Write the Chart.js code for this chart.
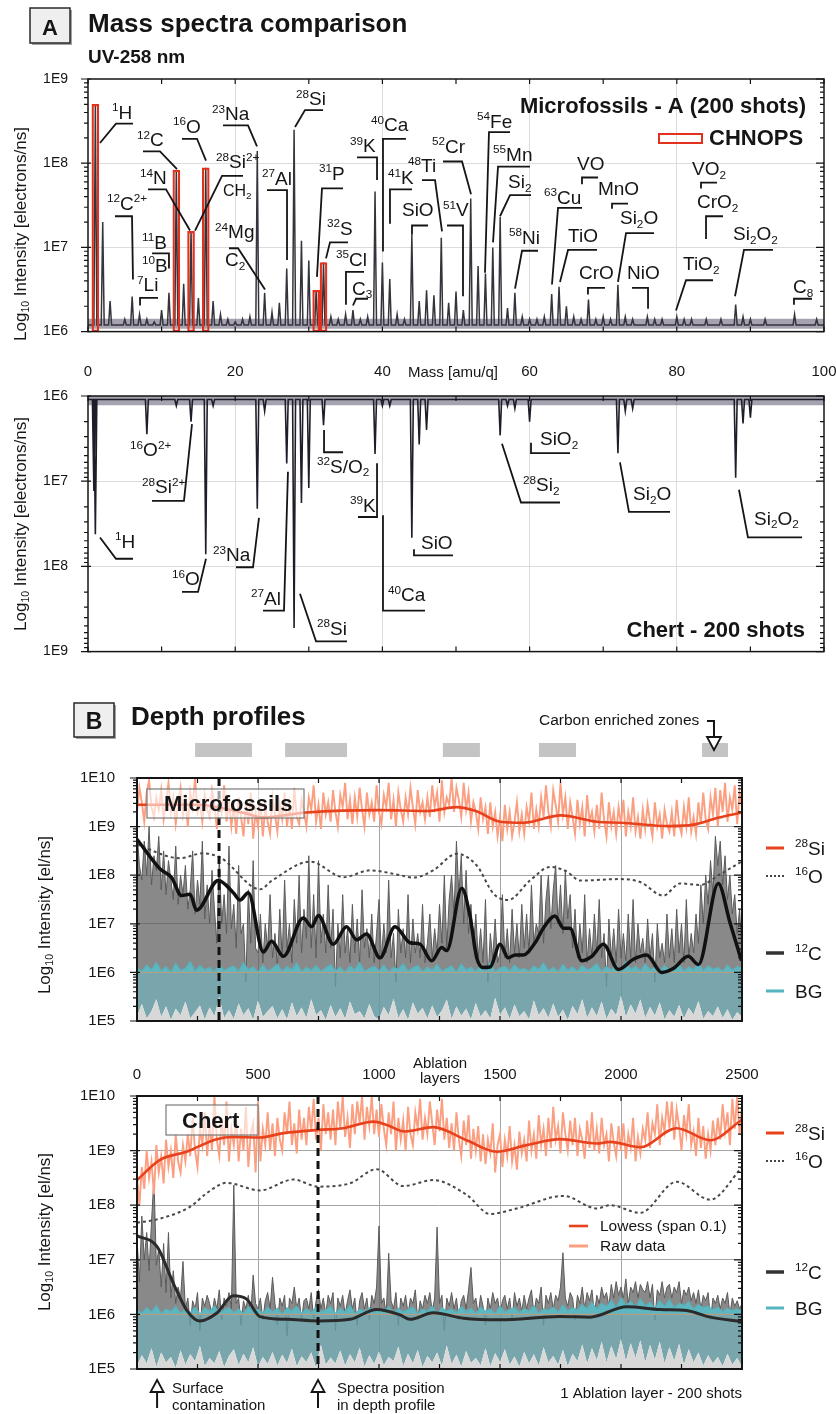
<!DOCTYPE html>
<html>
<head>
<meta charset="utf-8">
<title>Mass spectra and depth profiles</title>
<script src="https://cdn.jsdelivr.net/npm/chart.js@4.4.1/dist/chart.umd.min.js"></script>
<style>
  html, body { margin: 0; padding: 0; background: #fff; }
  #page { position: relative; width: 836px; height: 1414px; overflow: hidden; }
  #page canvas { position: absolute; left: 0; }
</style>
</head>
<body>
<div id="page">
  <canvas id="specTop" width="836" height="360" style="top:0"></canvas>
  <canvas id="specBottom" width="836" height="320" style="top:360px"></canvas>
  <canvas id="depthFossil" width="836" height="372" style="top:680px"></canvas>
  <canvas id="depthChert" width="836" height="362" style="top:1052px"></canvas>
</div>
<script>
const FONT = '"Liberation Sans", Arial, Helvetica, sans-serif';
const INK = '#151515';
const RED = '#e2311d';

// ---------- mass spectra: peak apex per mass (amu/q), intensity in electrons/ns ----------
const fossilMass = [1, 2, 3,
  5, 6, 7, 8, 9, 10, 11, 12, 13, 14,
  15, 16, 17, 18, 19, 20, 21, 22, 23, 24,
  25, 26, 27, 28, 29, 30, 31, 32, 33, 34,
  35, 36, 37, 38, 39, 40, 41, 42, 43, 44,
  45, 46, 47, 48, 49, 50, 51, 52, 53, 54,
  55, 56, 57, 58, 59, 60, 61, 62, 63, 64,
  65, 66, 67, 68, 69, 70, 71, 72, 73, 74,
  76, 77, 78, 80, 81, 82, 84, 86, 88, 89, 90, 92, 96, 99];
const fossilPeak = [5.0e8, 2.0e7, 2.3e6,
  1.4e6, 2.6e6, 1.6e6, 1.4e6, 1.3e6, 1.8e6, 2.9e6, 8.3e7, 3.7e6, 1.55e7,
  2.5e6, 8.8e7, 2.3e6, 1.6e6, 1.4e6, 1.3e6, 1.4e6, 1.5e6, 1.4e8, 2.9e6,
  1.7e6, 2.2e6, 5.6e6, 2.5e8, 1.2e7, 7.0e6, 3.1e6, 6.6e6, 1.5e6, 1.4e6,
  1.6e6, 1.8e6, 1.4e6, 1.5e6, 4.6e7, 6.6e6, 4.2e6, 1.6e6, 1.4e6, 1.4e7,
  2.3e6, 3.1e6, 2.7e6, 1.3e7, 2.2e6, 3.0e6, 1.8e6, 3.8e7, 6.0e6, 4.9e6,
  1.0e7, 2.3e7, 1.9e6, 2.9e6, 1.5e6, 1.4e6, 1.4e6, 1.5e6, 2.8e6, 3.4e6,
  2.0e6, 1.5e6, 1.4e6, 2.4e6, 1.4e6, 1.5e6, 1.4e6, 3.6e6, 1.5e6, 1.4e6,
  1.5e6, 1.4e6, 1.4e6, 1.5e6, 1.4e6, 1.4e6, 1.4e6, 1.4e6, 2.1e6, 1.5e6, 1.4e6, 1.4e6, 1.6e6, 1.4e6];
const chertMass = [0.8, 1, 8, 12, 14, 16, 17, 23, 24, 27,
  28, 29, 30, 32, 39, 40, 41, 44, 45, 46,
  56, 57, 58, 60, 72, 73, 74, 88, 89, 90];
const chertPeak = [1.3e7, 4.2e7, 2.8e6, 1.3e6, 2.0e6, 7.2e7, 1.3e6, 2.1e7, 1.5e6, 6.2e6,
  5.3e8, 1.8e7, 1.2e7, 2.2e6, 4.8e6, 1.3e6, 1.3e6, 4.6e7, 3.7e6, 2.5e6,
  2.9e6, 1.3e6, 1.4e6, 2.0e6, 4.7e6, 1.5e6, 1.4e6, 9.1e6, 2.1e6, 1.8e6];
const chnopsMass = [1, 12, 14, 16, 31, 32];
const fossilBase = 1.2e6, fossilNoise = [1.08e6, 1.42e6];
const chertBase = 1.1e6, chertNoise = [1.0e6, 1.28e6];

// ---------- depth profiles, log10(el/ns) ----------
// 28Si and 12C raw: one value every 10 ablation layers; BG envelope: every 20 layers
const rawLayers = Array.from({length: 251}, (_, i) => i * 10);
const bgLayers = Array.from({length: 126}, (_, i) => i * 20);

const fossilSiRawLog = [
  9.3, 9.8, 9.5, 9.1, 9.7, 9.95, 9.4, 9.2, 9.6, 9.35,
  9.75, 9.15, 9.5, 9.9, 9.3, 9.6, 9.05, 9.45, 9.8, 9.25,
  9.55, 9.0, 9.7, 9.4, 10.0, 9.3, 9.5, 9.1, 9.65, 9.35,
  9.2, 9.75, 9.45, 8.95, 9.6, 9.3, 9.85, 9.1, 9.5, 9.0,
  9.45, 8.85, 9.6, 9.2, 8.8, 9.5, 9.05, 9.7, 8.75, 9.3,
  9.0, 9.55, 8.8, 9.4, 9.1, 8.85, 9.6, 9.25, 8.9, 9.45,
  9.15, 9.7, 9.0, 9.45, 8.95, 9.8, 9.2, 9.05, 9.55, 9.3,
  9.0, 9.6, 9.35, 9.85, 9.1, 9.45, 8.95, 9.7, 9.25, 9.5,
  9.1, 9.75, 9.3, 9.0, 9.65, 9.4, 9.9, 9.15, 9.55, 9.05,
  9.6, 9.2, 9.8, 9.35, 9.0, 9.7, 9.25, 9.5, 9.1, 9.85,
  9.3, 9.05, 9.65, 9.4, 9.9, 9.15, 9.55, 9.0, 9.7, 9.35,
  9.1, 9.6, 9.25, 9.8, 9.4, 9.05, 9.75, 9.3, 9.5, 9.15,
  9.6, 9.2, 9.85, 9.4, 9.7, 9.1, 9.95, 9.3, 9.6, 9.45,
  10.0, 9.3, 9.8, 9.55, 9.2, 9.9, 9.35, 9.7, 9.1, 9.5,
  9.3, 8.95, 9.6, 9.15, 9.4, 8.85, 9.5, 9.0, 9.3, 8.8,
  9.2, 8.7, 9.45, 8.95, 9.3, 8.8, 9.1, 9.5, 8.9, 9.25,
  8.85, 9.4, 9.1, 9.7, 8.95, 9.35, 9.0, 9.6, 9.2, 9.85,
  9.3, 9.0, 9.75, 9.45, 9.1, 9.9, 9.25, 9.6, 8.95, 9.5,
  9.2, 8.85, 9.55, 9.05, 9.4, 8.8, 9.65, 9.1, 9.3, 8.9,
  9.45, 8.95, 9.7, 9.15, 8.8, 9.5, 9.0, 9.3, 8.85, 9.4,
  9.05, 9.55, 8.8, 9.3, 9.0, 9.6, 8.9, 9.2, 8.75, 9.35,
  8.95, 9.45, 9.1, 8.8, 9.5, 9.0, 9.25, 8.75, 9.35, 9.05,
  8.9, 9.3, 8.8, 9.55, 9.05, 8.85, 9.4, 9.0, 9.6, 8.9,
  9.2, 8.85, 9.5, 9.05, 9.7, 9.15, 8.95, 9.6, 9.25, 9.8,
  9.0, 9.75, 9.3, 9.9, 9.1, 9.6, 9.35, 9.85, 9.05, 9.7,
  9.4];
const fossilCRawLog = [
  8.9, 8.2, 7.9, 8.7, 8.0, 9.0, 7.8, 8.4, 8.1, 8.8,
  7.7, 8.5, 7.6, 8.3, 7.9, 7.5, 8.6, 7.4, 8.0, 7.6,
  8.2, 7.3, 7.7, 8.5, 7.2, 7.9, 7.4, 8.7, 7.1, 7.8,
  7.0, 8.1, 7.3, 6.6, 8.4, 7.0, 7.6, 6.8, 8.6, 6.9,
  7.4, 6.5, 8.2, 6.8, 7.0, 5.8, 7.7, 6.6, 8.3, 6.5,
  6.4, 7.2, 6.2, 7.0, 6.5, 7.6, 6.3, 6.8, 6.1, 7.3,
  6.3, 7.9, 6.5, 7.0, 6.2, 7.5, 6.6, 8.0, 6.4, 7.3,
  6.7, 8.4, 6.5, 7.6, 6.3, 8.3, 6.6, 7.2, 6.4, 7.8,
  6.5, 7.3, 5.7, 7.0, 6.3, 7.6, 6.4, 6.9, 6.2, 7.4,
  6.4, 7.1, 6.2, 7.7, 6.5, 6.9, 6.3, 7.2, 6.2, 6.8,
  7.5, 6.3, 7.0, 6.4, 7.9, 6.3, 6.8, 5.8, 7.3, 6.4,
  6.9, 6.3, 7.6, 6.2, 7.1, 6.4, 6.8, 6.3, 7.4, 6.2,
  6.6, 7.2, 6.3, 6.9, 6.4, 7.4, 6.6, 8.0, 6.5, 7.5,
  8.0, 7.2, 8.7, 7.6, 8.4, 7.0, 8.1, 6.8, 7.4, 6.5,
  7.2, 6.3, 6.9, 6.2, 7.5, 5.8, 6.8, 6.3, 7.1, 6.2,
  6.4, 7.6, 6.3, 6.9, 6.2, 7.3, 6.4, 7.0, 6.3, 7.4,
  6.5, 7.2, 6.4, 7.8, 6.6, 7.0, 6.8, 8.0, 6.6, 7.5,
  8.0, 6.9, 7.7, 8.2, 7.0, 7.8, 6.8, 8.1, 7.1, 7.6,
  6.5, 7.3, 6.3, 7.0, 6.4, 7.6, 6.2, 6.9, 6.3, 7.2,
  6.4, 7.5, 6.3, 6.8, 5.7, 7.1, 6.3, 6.9, 6.2, 7.3,
  6.3, 6.8, 6.2, 7.2, 6.3, 7.5, 6.2, 7.0, 6.4, 6.7,
  6.2, 7.1, 6.3, 6.8, 5.8, 7.0, 6.3, 6.6, 6.2, 7.2,
  6.3, 6.9, 6.2, 7.3, 6.4, 7.0, 6.2, 7.5, 6.3, 6.8,
  6.4, 7.2, 6.6, 7.8, 7.0, 8.0, 7.4, 8.3, 7.6, 8.8,
  8.2, 8.7, 7.8, 8.4, 7.5, 8.0, 7.2, 7.6, 6.8, 7.3,
  6.4];
const fossilBgHighLog = [
  6.10, 6.02, 6.15, 6.05, 6.20, 6.03, 6.12, 6.00, 6.18, 6.04,
  6.08, 6.22, 6.02, 6.14, 6.05, 6.10, 6.01, 6.16, 6.04, 6.09,
  6.13, 6.02, 6.20, 6.05, 6.11, 6.00, 6.15, 6.03, 6.08, 6.17,
  6.02, 6.12, 6.05, 6.19, 6.01, 6.10, 6.04, 6.14, 6.02, 6.09,
  6.16, 6.03, 6.11, 6.00, 6.13, 6.05, 6.20, 6.02, 6.08, 6.12,
  6.03, 6.15, 6.01, 6.10, 6.06, 6.18, 6.02, 6.09, 6.14, 6.01,
  6.11, 6.04, 6.16, 6.02, 6.08, 6.13, 6.00, 6.17, 6.05, 6.10,
  6.02, 6.14, 6.04, 6.21, 6.01, 6.09, 6.12, 6.03, 6.15, 6.05,
  6.08, 6.02, 6.13, 6.06, 6.19, 6.03, 6.10, 6.01, 6.16, 6.04,
  6.11, 6.02, 6.14, 6.05, 6.09, 6.18, 6.02, 6.12, 6.04, 6.15,
  6.01, 6.22, 6.06, 6.12, 6.03, 6.17, 6.05, 6.10, 6.02, 6.14,
  6.04, 6.09, 6.16, 6.02, 6.11, 6.05, 6.20, 6.03, 6.13, 6.06,
  6.10, 6.02, 6.15, 6.04, 6.12, 6.08];
const fossilBgLowLog = [
  5.10, 5.35, 5.05, 5.20, 5.45, 5.08, 5.30, 5.02, 5.25, 5.12,
  5.40, 5.05, 5.18, 5.32, 5.03, 5.28, 5.10, 5.50, 5.06, 5.22,
  5.04, 5.36, 5.12, 5.26, 5.02, 5.42, 5.08, 5.20, 5.31, 5.05,
  5.24, 5.03, 5.38, 5.10, 5.28, 5.06, 5.45, 5.12, 5.22, 5.02,
  5.33, 5.08, 5.26, 5.04, 5.40, 5.14, 5.20, 5.05, 5.35, 5.10,
  5.03, 5.29, 5.12, 5.46, 5.06, 5.24, 5.02, 5.38, 5.15, 5.27,
  5.05, 5.32, 5.08, 5.21, 5.44, 5.04, 5.30, 5.11, 5.25, 5.03,
  5.37, 5.09, 5.22, 5.05, 5.48, 5.13, 5.28, 5.04, 5.34, 5.10,
  5.20, 5.03, 5.42, 5.12, 5.26, 5.06, 5.36, 5.08, 5.23, 5.02,
  5.31, 5.14, 5.45, 5.06, 5.28, 5.10, 5.40, 5.04, 5.25, 5.12,
  5.52, 5.08, 5.34, 5.15, 5.44, 5.06, 5.29, 5.11, 5.38, 5.03,
  5.22, 5.09, 5.33, 5.05, 5.27, 5.13, 5.41, 5.04, 5.20, 5.10,
  5.30, 5.06, 5.24, 5.02, 5.18, 5.08];

const chertSiRawLog = [
  8.5, 8.0, 8.7, 8.3, 9.0, 8.5, 8.8, 8.2, 9.1, 8.6,
  8.9, 8.4, 9.2, 8.7, 9.0, 8.5, 9.3, 8.8, 8.6, 9.1,
  8.8, 9.3, 8.9, 9.6, 9.0, 8.7, 9.4, 9.1, 9.7, 8.9,
  9.5, 9.0, 10.0, 9.2, 8.9, 9.6, 9.1, 9.9, 8.8, 9.4,
  9.1, 9.6, 8.8, 9.4, 9.0, 9.8, 8.7, 9.3, 9.5, 8.6,
  9.9, 8.8, 9.4, 9.1, 9.7, 9.0, 9.5, 8.9, 9.6, 9.2,
  9.0, 9.7, 9.3, 9.9, 9.1, 9.5, 8.95, 9.75, 9.2, 9.6,
  9.1, 9.8, 9.35, 9.95, 9.2, 9.6, 9.0, 9.85, 9.3, 9.7,
  9.2, 9.75, 9.1, 9.9, 9.4, 10.0, 9.25, 9.6, 9.05, 9.85,
  9.3, 9.9, 9.5, 10.0, 9.2, 9.8, 9.45, 10.0, 9.3, 9.75,
  9.25, 9.85, 9.4, 9.1, 9.7, 9.3, 9.9, 9.0, 9.6, 9.2,
  9.55, 9.0, 9.8, 9.3, 9.1, 9.7, 9.4, 9.95, 9.2, 9.6,
  9.3, 9.9, 9.5, 9.1, 9.75, 9.35, 9.95, 9.2, 9.6, 9.05,
  9.5, 9.0, 9.7, 9.2, 8.9, 9.55, 9.1, 9.65, 8.85, 9.4,
  9.0, 9.45, 8.8, 9.3, 8.75, 9.2, 8.95, 9.5, 8.6, 9.1,
  9.3, 8.7, 9.2, 8.9, 9.45, 8.8, 9.1, 8.65, 9.35, 8.95,
  9.2, 8.8, 9.55, 9.0, 9.3, 8.85, 9.65, 9.1, 9.4, 8.9,
  9.6, 9.05, 9.8, 9.2, 9.45, 8.95, 9.7, 9.3, 9.0, 9.55,
  9.1, 9.6, 8.9, 9.4, 9.2, 8.85, 9.55, 9.05, 9.7, 9.0,
  9.4, 8.95, 9.6, 9.1, 9.3, 8.8, 9.5, 9.15, 8.9, 9.45,
  9.0, 9.5, 8.85, 9.3, 9.05, 9.6, 8.8, 9.25, 8.95, 9.4,
  9.2, 9.7, 9.05, 9.5, 9.3, 9.85, 9.1, 9.6, 9.35, 9.9,
  9.4, 9.9, 9.2, 9.75, 9.45, 9.0, 9.65, 9.3, 9.85, 9.1,
  9.35, 8.9, 9.6, 9.05, 9.45, 8.85, 9.3, 9.0, 9.55, 9.1,
  9.6, 9.2, 9.85, 9.35, 9.7, 9.1, 9.95, 9.4, 10.0, 9.3,
  9.8];
const chertCRawLog = [
  7.4, 6.6, 7.8, 7.0, 7.5, 6.8, 7.7, 8.5, 6.9, 7.2,
  6.5, 7.3, 6.4, 7.5, 6.3, 6.8, 6.2, 6.5, 6.3, 6.97,
  6.1, 6.3, 5.8, 6.25, 6.1, 6.4, 5.7, 6.3, 6.15, 6.35,
  6.2, 6.0, 6.3, 6.1, 6.45, 5.9, 6.3, 6.15, 6.4, 6.1,
  8.37, 6.2, 6.3, 5.8, 6.25, 6.1, 6.35, 6.0, 6.72, 6.2,
  6.1, 6.3, 5.9, 6.25, 6.4, 6.1, 6.68, 6.2, 5.8, 6.3,
  6.15, 6.35, 5.6, 6.3, 6.2, 6.5, 6.1, 6.3, 5.9, 6.25,
  6.3, 6.1, 6.4, 5.9, 6.25, 6.45, 6.1, 6.3, 6.0, 6.35,
  6.2, 6.4, 5.7, 6.3, 6.15, 6.35, 6.0, 6.25, 6.45, 6.1,
  6.3, 5.8, 6.25, 6.4, 6.1, 6.3, 5.9, 6.35, 6.2, 6.5,
  7.62, 6.2, 6.3, 6.0, 7.12, 6.25, 6.1, 6.4, 5.8, 6.3,
  6.15, 6.35, 6.0, 6.3, 6.2, 6.45, 5.9, 6.25, 6.1, 6.35,
  6.2, 6.4, 6.05, 6.3, 7.60, 6.2, 6.35, 5.7, 6.3, 6.15,
  6.4, 6.1, 6.3, 5.9, 6.25, 6.35, 6.1, 6.45, 6.86, 6.2,
  6.3, 6.0, 6.35, 6.15, 5.8, 6.3, 6.1, 6.4, 6.2, 6.3,
  6.0, 6.25, 6.35, 6.1, 6.3, 5.9, 6.4, 6.15, 6.3, 6.05,
  6.35, 6.1, 6.3, 6.45, 6.0, 6.3, 6.2, 6.5, 5.8, 6.35,
  6.2, 6.4, 6.1, 6.35, 6.25, 6.5, 7.13, 6.3, 6.15, 6.4,
  6.3, 5.9, 6.35, 6.2, 6.5, 6.1, 6.4, 6.25, 6.45, 6.0,
  6.35, 6.2, 6.5, 6.3, 6.4, 6.15, 6.55, 6.3, 6.6, 6.35,
  6.5, 6.3, 6.65, 6.2, 6.5, 6.4, 6.6, 6.3, 6.55, 6.45,
  6.4, 6.6, 6.3, 6.55, 5.9, 6.45, 6.35, 6.6, 6.3, 6.5,
  6.55, 6.3, 6.5, 6.4, 6.6, 6.2, 6.45, 6.35, 6.5, 6.25,
  6.4, 6.2, 6.45, 6.1, 6.35, 6.25, 6.4, 5.9, 6.3, 6.2,
  6.35, 6.1, 6.3, 6.2, 6.4, 6.0, 6.3, 6.15, 6.25, 6.1,
  6.2];
const chertBgHighLog = [
  6.08, 6.02, 6.12, 6.04, 6.16, 6.01, 6.10, 6.05, 6.14, 6.02,
  6.09, 6.03, 6.13, 6.00, 6.11, 6.06, 6.15, 6.02, 6.08, 6.12,
  6.03, 6.10, 6.01, 6.14, 6.05, 6.09, 6.02, 6.13, 6.04, 6.11,
  6.00, 6.12, 6.06, 6.15, 6.02, 6.10, 6.03, 6.13, 6.05, 6.08,
  6.14, 6.02, 6.11, 6.04, 6.16, 6.01, 6.09, 6.05, 6.12, 6.03,
  6.10, 6.06, 6.14, 6.02, 6.11, 6.04, 6.09, 6.13, 6.01, 6.10,
  6.05, 6.15, 6.02, 6.12, 6.06, 6.09, 6.03, 6.14, 6.05, 6.11,
  6.02, 6.13, 6.06, 6.10, 6.01, 6.15, 6.04, 6.09, 6.12, 6.03,
  6.11, 6.05, 6.16, 6.02, 6.10, 6.07, 6.13, 6.04, 6.17, 6.06,
  6.12, 6.08, 6.18, 6.10, 6.22, 6.09, 6.20, 6.14, 6.26, 6.12,
  6.30, 6.16, 6.24, 6.13, 6.28, 6.15, 6.22, 6.11, 6.25, 6.14,
  6.27, 6.12, 6.20, 6.16, 6.23, 6.09, 6.18, 6.12, 6.15, 6.08,
  6.13, 6.05, 6.11, 6.07, 6.10, 6.06];
const chertBgLowLog = [
  5.06, 5.25, 5.10, 5.38, 5.04, 5.30, 5.12, 5.22, 5.02, 5.34,
  5.08, 5.27, 5.14, 5.42, 5.05, 5.20, 5.10, 5.33, 5.03, 5.24,
  5.36, 5.07, 5.28, 5.12, 5.40, 5.04, 5.22, 5.09, 5.31, 5.06,
  5.26, 5.11, 5.37, 5.05, 5.23, 5.13, 5.30, 5.02, 5.44, 5.08,
  5.21, 5.10, 5.34, 5.06, 5.27, 5.12, 5.39, 5.04, 5.25, 5.09,
  5.32, 5.07, 5.22, 5.14, 5.41, 5.05, 5.28, 5.10, 5.35, 5.03,
  5.24, 5.12, 5.30, 5.06, 5.43, 5.09, 5.26, 5.04, 5.33, 5.11,
  5.20, 5.07, 5.38, 5.05, 5.29, 5.13, 5.36, 5.08, 5.23, 5.04,
  5.31, 5.10, 5.27, 5.06, 5.40, 5.12, 5.24, 5.08, 5.35, 5.05,
  5.28, 5.14, 5.45, 5.10, 5.38, 5.16, 5.50, 5.12, 5.42, 5.18,
  5.55, 5.14, 5.47, 5.20, 5.52, 5.12, 5.44, 5.17, 5.50, 5.10,
  5.40, 5.15, 5.46, 5.08, 5.36, 5.12, 5.30, 5.06, 5.25, 5.10,
  5.22, 5.05, 5.28, 5.08, 5.20, 5.04];

// lowess (span 0.1) curves: ablation layer / log10(el/ns)
const fossilSiFitAt = [0, 250, 450, 520, 700, 1000, 1200, 1320, 1400, 1500, 1600, 1750, 1900, 2000, 2200, 2300, 2400, 2500];
const fossilSiFitLog = [9.45, 9.45, 9.27, 9.19, 9.29, 9.34, 9.32, 9.40, 9.32, 9.10, 9.08, 9.23, 9.10, 9.08, 9.01, 9.04, 9.18, 9.29];
const fossilOFitAt = [0, 176, 274, 348, 509, 558, 716, 853, 963, 1087, 1142, 1224, 1321, 1404, 1473, 1534, 1624, 1707, 1775, 1831, 1997, 2079, 2175, 2244, 2327, 2410, 2498];
const fossilOFitLog = [8.63, 8.35, 8.45, 8.35, 7.71, 7.89, 8.28, 7.96, 8.10, 8.00, 7.95, 8.10, 8.44, 8.20, 7.62, 7.49, 7.89, 8.17, 8.08, 7.89, 7.92, 7.86, 7.58, 7.83, 7.80, 8.02, 8.28];
const fossilCFitAt = [0, 95, 143, 184, 219, 246, 336, 398, 426, 460, 522, 556, 605, 687, 722, 749, 811, 866, 908, 949, 1004, 1066, 1128, 1169, 1218, 1259, 1280, 1342, 1376, 1404, 1431, 1459, 1500, 1534, 1562, 1597, 1645, 1679, 1727, 1762, 1789, 1838, 1879, 1927, 1989, 2051, 2106, 2168, 2216, 2278, 2320, 2402, 2450, 2498];
const fossilCFitLog = [8.74, 8.13, 7.95, 7.58, 7.61, 7.28, 7.89, 7.64, 7.49, 7.64, 6.42, 6.64, 6.33, 7.12, 6.94, 7.17, 6.58, 6.94, 6.67, 6.79, 6.30, 6.94, 6.61, 6.58, 6.24, 6.51, 6.45, 7.73, 7.16, 6.30, 6.10, 6.11, 6.58, 6.30, 6.36, 6.36, 6.61, 6.91, 7.16, 6.91, 6.91, 6.24, 6.33, 6.58, 6.06, 6.27, 6.36, 6.00, 6.08, 6.33, 6.16, 7.83, 7.03, 6.24];

const chertSiFitAt = [0, 95, 205, 329, 398, 508, 605, 749, 853, 977, 1032, 1107, 1224, 1362, 1486, 1610, 1748, 1900, 1955, 2079, 2230, 2368, 2498];
const chertSiFitLog = [8.46, 8.83, 8.98, 9.21, 9.25, 9.24, 9.32, 9.38, 9.41, 9.53, 9.47, 9.35, 9.43, 9.19, 8.98, 9.10, 9.21, 9.13, 9.16, 9.06, 9.41, 9.19, 9.56];
const chertOFitAt = [0, 83, 219, 288, 370, 508, 646, 749, 880, 990, 1100, 1224, 1362, 1459, 1569, 1762, 1900, 1955, 2079, 2230, 2368, 2498];
const chertOFitLog = [7.68, 7.74, 7.97, 8.22, 8.41, 8.27, 8.47, 8.34, 8.40, 8.66, 8.35, 8.46, 8.19, 7.84, 7.94, 8.17, 7.94, 8.00, 7.86, 8.43, 8.10, 8.68];
const chertCFitAt = [0, 83, 150, 205, 260, 329, 398, 453, 508, 619, 749, 880, 990, 1087, 1128, 1224, 1349, 1500, 1748, 1872, 2024, 2162, 2271, 2368, 2498];
const chertCFitLog = [7.44, 7.24, 6.57, 6.08, 5.88, 6.02, 6.34, 6.28, 5.96, 5.91, 5.88, 5.91, 6.09, 5.99, 5.91, 6.03, 5.93, 5.90, 5.96, 5.95, 6.14, 6.09, 6.07, 5.95, 5.87];

const bgLimit = 1e6;
const carbonZones = [[240, 475], [612, 868], [1264, 1417], [1661, 1814], [2335, 2442]];
const fossilSpectrumLayer = 339;
const chertSpectrumLayer = 748;
const surfaceLayer = 83;

// peak labels: text anchor and leader polyline as [mass, log10 intensity]
const topLabels = [
  {t: '^1H', at: [3.26, 8.53], path: [[6.11, 8.47], [3.80, 8.47], [1.63, 8.24]]},
  {t: '^12C', at: [6.66, 8.20], path: [[7.47, 8.14], [9.78, 8.14], [12.09, 7.93]]},
  {t: '^16O', at: [11.55, 8.36], path: [[12.77, 8.29], [14.81, 8.29], [16.03, 8.03]]},
  {t: '^14N', at: [7.07, 7.75], path: [[8.15, 7.69], [10.6, 7.69], [13.86, 7.20]]},
  {t: '^28Si^2+', at: [17.39, 7.94], path: [[21.06, 7.85], [18.21, 7.85], [14.54, 7.20]]},
  {t: 'CH_2', at: [18.34, 7.61], size: 16},
  {t: '^12C^2+', at: [2.58, 7.45], path: [[3.67, 7.37], [5.98, 7.37], [6.11, 6.62]]},
  {t: '^11B', at: [7.34, 6.98], path: [[8.70, 6.93], [11.0, 6.93], [11.0, 6.75]]},
  {t: '^10B', at: [7.34, 6.71]},
  {t: '^7Li', at: [6.66, 6.48], path: [[7.07, 6.31], [7.07, 6.40], [9.51, 6.40]]},
  {t: '^23Na', at: [16.85, 8.51], path: [[18.34, 8.45], [21.74, 8.45], [22.96, 8.20]]},
  {t: '^24Mg', at: [17.26, 7.11]},
  {t: 'C_2', at: [18.61, 6.78], path: [[19.16, 6.99], [20.38, 6.99], [24.05, 6.50]]},
  {t: '^27Al', at: [23.64, 7.74], path: [[24.32, 7.68], [27.04, 7.68], [27.04, 6.85]]},
  {t: '^28Si', at: [28.26, 8.69], path: [[31.93, 8.63], [29.48, 8.63], [28.13, 8.43]]},
  {t: '^31P', at: [31.39, 7.80], path: [[34.65, 7.70], [31.79, 7.70], [31.11, 6.65]]},
  {t: '^32S', at: [32.47, 7.15], path: [[35.33, 7.06], [32.88, 7.06], [32.34, 6.87]]},
  {t: '^35Cl', at: [33.70, 6.78], path: [[37.5, 6.71], [35.05, 6.71], [35.05, 6.32]]},
  {t: 'C_3', at: [35.87, 6.44], path: [[38.04, 6.39], [36.41, 6.39], [36.0, 6.31]]},
  {t: '^39K', at: [35.6, 8.13], path: [[36.55, 8.07], [39.27, 8.07], [39.27, 7.80]]},
  {t: '^40Ca', at: [38.45, 8.38], path: [[43.2, 8.29], [40.08, 8.29], [40.08, 6.95]]},
  {t: '^41K', at: [40.76, 7.75], path: [[44.02, 7.69], [41.03, 7.69], [41.03, 7.28]]},
  {t: 'SiO', at: [42.66, 7.37], path: [[44.02, 7.15], [44.02, 7.26], [46.2, 7.26]]},
  {t: '^48Ti', at: [43.48, 7.89], path: [[45.38, 7.80], [47.15, 7.80], [48.1, 7.19]]},
  {t: '^51V', at: [48.23, 7.37], path: [[48.78, 7.26], [50.95, 7.26], [50.95, 6.42]]},
  {t: '^52Cr', at: [46.74, 8.12], path: [[48.23, 8.02], [50.82, 8.02], [52.04, 7.63]]},
  {t: '^54Fe', at: [52.85, 8.42], path: [[57.34, 8.37], [54.48, 8.37], [53.94, 6.70]]},
  {t: '^55Mn', at: [55.03, 8.03], path: [[60.05, 7.96], [55.71, 7.96], [55.03, 7.06]]},
  {t: 'Si_2', at: [57.07, 7.70], path: [[60.19, 7.62], [57.34, 7.62], [55.98, 7.37]]},
  {t: '^58Ni', at: [57.2, 7.04], path: [[61.14, 6.96], [58.97, 6.96], [58.02, 6.51]]},
  {t: '^63Cu', at: [61.96, 7.52], path: [[67.12, 7.47], [63.86, 7.47], [63.04, 6.56]]},
  {t: 'TiO', at: [65.22, 7.06], path: [[69.16, 6.97], [65.22, 6.97], [64.13, 6.59]]},
  {t: 'VO', at: [66.44, 7.92], path: [[67.12, 7.75], [67.12, 7.83], [69.29, 7.83]]},
  {t: 'MnO', at: [69.29, 7.62], path: [[71.2, 7.46], [71.2, 7.52], [73.37, 7.52]]},
  {t: 'Si_2O', at: [72.28, 7.28], path: [[76.9, 7.17], [73.1, 7.17], [72.01, 6.59]]},
  {t: 'CrO', at: [66.71, 6.62], path: [[67.93, 6.44], [67.93, 6.52], [70.24, 6.52]]},
  {t: 'NiO', at: [73.23, 6.62], path: [[73.91, 6.52], [76.09, 6.52], [76.09, 6.27]]},
  {t: 'VO_2', at: [82.07, 7.86], path: [[83.29, 7.70], [83.29, 7.77], [85.46, 7.77]]},
  {t: 'CrO_2', at: [82.74, 7.47], path: [[83.97, 7.10], [83.97, 7.37], [86.28, 7.37]]},
  {t: 'TiO_2', at: [80.84, 6.73], path: [[84.92, 6.61], [81.25, 6.61], [79.89, 6.25]]},
  {t: 'Si_2O_2', at: [87.64, 7.09], path: [[93.07, 6.97], [89.13, 6.97], [87.91, 6.42]]},
  {t: 'C_8', at: [95.79, 6.46], path: [[95.92, 6.32], [95.92, 6.39], [98.37, 6.39]]}
];
const bottomLabels = [
  {t: '^1H', at: [3.67, 7.78], path: [[1.63, 7.66], [3.80, 7.91], [6.11, 7.91]]},
  {t: '^16O^2+', at: [5.71, 6.71]},
  {t: '^28Si^2+', at: [7.34, 7.14], path: [[8.70, 7.23], [13.04, 7.23], [14.13, 6.33]]},
  {t: '^16O', at: [11.41, 8.22], path: [[12.77, 8.30], [14.95, 8.30], [16.03, 7.91]]},
  {t: '^23Na', at: [16.98, 7.94], path: [[20.11, 8.01], [22.42, 8.01], [23.23, 7.43]]},
  {t: '^27Al', at: [22.15, 8.45], path: [[23.78, 8.52], [26.63, 8.52], [27.17, 6.89]]},
  {t: '^28Si', at: [31.11, 8.80], path: [[28.8, 8.32], [30.98, 8.88], [35.19, 8.88]]},
  {t: '^32S/O_2', at: [31.11, 6.90], path: [[32.07, 6.40], [32.07, 6.66], [34.65, 6.66]]},
  {t: '^39K', at: [35.6, 7.36], path: [[36.68, 7.42], [39.27, 7.42], [39.27, 6.79]]},
  {t: '^40Ca', at: [40.76, 8.41], path: [[40.08, 7.40], [40.08, 8.52], [45.79, 8.52]]},
  {t: 'SiO', at: [45.24, 7.79], path: [[44.29, 7.80], [44.29, 7.87], [49.59, 7.87]]},
  {t: '^28Si_2', at: [59.1, 7.12], path: [[56.25, 6.56], [58.83, 7.25], [64.13, 7.25]]},
  {t: 'SiO_2', at: [61.41, 6.58], path: [[60.19, 6.55], [60.19, 6.67], [65.49, 6.67]]},
  {t: 'Si_2O', at: [74.05, 7.22], path: [[72.28, 6.78], [73.5, 7.36], [79.08, 7.36]]},
  {t: 'Si_2O_2', at: [90.49, 7.51], path: [[88.45, 7.10], [89.67, 7.66], [97.01, 7.66]]}
];

// ---------- helpers ----------
Chart.defaults.font.family = FONT;
Chart.defaults.color = INK;

const toPts = (xs, logs) => logs.map((v, i) => ({x: xs[i], y: Math.pow(10, v)}));
const flat = (x0, x1, v) => [{x: x0, y: v}, {x: x1, y: v}];

function stickLine(mass, peak, base) {
  const pts = [{x: 0, y: base}];
  mass.forEach((m, i) => {
    pts.push({x: m - 0.2, y: base}, {x: m, y: peak[i]}, {x: m + 0.2, y: base});
  });
  pts.push({x: 100, y: base});
  return pts;
}

function isDecade(v) {
  const l = Math.log10(v);
  return Math.abs(l - Math.round(l)) < 1e-6;
}

function decadeTicks(min, max) {
  const out = [];
  for (let e = Math.round(Math.log10(min)); e < Math.round(Math.log10(max)); e++) {
    for (let k = 1; k < 10; k++) out.push({value: k * Math.pow(10, e)});
  }
  out.push({value: max});
  return out;
}

function logAxis(min, max, opts) {
  return {
    type: 'logarithmic', min, max, reverse: !!opts.reverse,
    afterBuildTicks: s => { s.ticks = decadeTicks(min, max); },
    afterFit: s => { s.width = opts.width; },
    ticks: {
      autoSkip: false, padding: opts.pad, font: {size: opts.font}, color: INK,
      callback: v => isDecade(v) ? '1E' + Math.round(Math.log10(v)) : ''
    },
    grid: {
      drawTicks: false,
      color: c => c.tick && isDecade(c.tick.value) && c.tick.value !== min && c.tick.value !== max ? opts.grid : 'rgba(0,0,0,0)'
    },
    border: {display: false}
  };
}

function linAxis(max, step, labelStep, opts) {
  return {
    type: 'linear', min: 0, max, offset: false, position: opts.position,
    afterFit: s => { s.height = opts.height; s.paddingLeft = 0; s.paddingRight = 0; },
    ticks: {
      display: !!opts.labels, stepSize: step, autoSkip: false, maxRotation: 0,
      padding: opts.pad || 0, font: {size: 15}, color: INK,
      callback: v => v % labelStep === 0 ? String(v) : ''
    },
    grid: {
      drawTicks: false, offset: false,
      color: c => c.tick && c.tick.value % labelStep === 0 && c.tick.value > 0 && c.tick.value < max ? opts.grid : 'rgba(0,0,0,0)'
    },
    border: {display: false}
  };
}

function richParts(text) {
  return text.match(/\^[0-9+]+|_[0-9]+|[^\^_]+/g);
}

function richWidth(ctx, text, size, weight) {
  let w = 0;
  richParts(text).forEach(p => {
    const small = p[0] === '^' || p[0] === '_';
    ctx.font = `${weight} ${small ? size * 0.62 : size}px ${FONT}`;
    w += ctx.measureText(small ? p.slice(1) : p).width;
  });
  return w;
}

function drawRich(ctx, text, x, y, size, weight = 'normal', align = 'left') {
  if (align !== 'left') {
    const w = richWidth(ctx, text, size, weight);
    x -= align === 'center' ? w / 2 : w;
  }
  ctx.textAlign = 'left';
  ctx.textBaseline = 'alphabetic';
  richParts(text).forEach(p => {
    let s = p, fs = size, dy = 0;
    if (p[0] === '^') { s = p.slice(1); fs = size * 0.62; dy = -size * 0.4; }
    else if (p[0] === '_') { s = p.slice(1); fs = size * 0.62; dy = size * 0.2; }
    ctx.font = `${weight} ${fs}px ${FONT}`;
    ctx.fillText(s, x, y + dy);
    x += ctx.measureText(s).width;
  });
}

function yTitle(ctx, text, x, yc, size) {
  ctx.save();
  ctx.translate(x, yc);
  ctx.rotate(-Math.PI / 2);
  ctx.fillStyle = INK;
  drawRich(ctx, text, 0, 0, size, 'normal', 'center');
  ctx.restore();
}

function drawFrame(chart, xStep, lw) {
  const {ctx, chartArea: a, scales: {x, y}} = chart;
  ctx.save();
  ctx.strokeStyle = INK;
  ctx.lineWidth = 1.2;
  ctx.beginPath();
  y.ticks.forEach(t => {
    const py = y.getPixelForValue(t.value), major = isDecade(t.value);
    ctx.moveTo(a.left - (major ? 7 : 4), py); ctx.lineTo(a.left + (major ? 3 : 0), py);
    ctx.moveTo(a.right - (major ? 8 : 4), py); ctx.lineTo(a.right, py);
  });
  for (let v = x.min; v <= x.max; v += xStep) {
    const px = x.getPixelForValue(v);
    ctx.moveTo(px, a.top); ctx.lineTo(px, a.top + 5);
    ctx.moveTo(px, a.bottom); ctx.lineTo(px, a.bottom - 5);
  }
  ctx.stroke();
  ctx.lineWidth = lw;
  ctx.strokeRect(a.left, a.top, a.right - a.left, a.bottom - a.top);
  ctx.restore();
}

function drawPeakLabels(chart, list) {
  const {ctx, scales: {x, y}} = chart;
  const px = p => [x.getPixelForValue(p[0]), y.getPixelForValue(Math.pow(10, p[1]))];
  ctx.save();
  ctx.strokeStyle = INK;
  ctx.fillStyle = INK;
  ctx.lineWidth = 1.8;
  list.forEach(l => {
    if (l.path) {
      ctx.beginPath();
      l.path.forEach((p, i) => {
        const [a, b] = px(p);
        if (i) ctx.lineTo(a, b); else ctx.moveTo(a, b);
      });
      ctx.stroke();
    }
    const [a, b] = px(l.at);
    drawRich(ctx, l.t, a, b, l.size || 19);
  });
  ctx.restore();
}

function panelBox(ctx, letter, x, y, w, h, size) {
  ctx.save();
  ctx.fillStyle = '#a3a3a3';
  ctx.fillRect(x + 2, y + 2, w, h);
  ctx.fillStyle = '#efefef';
  ctx.fillRect(x, y, w, h);
  ctx.strokeStyle = '#2a2a2a';
  ctx.lineWidth = 1.5;
  ctx.strokeRect(x, y, w, h);
  ctx.fillStyle = INK;
  ctx.font = `bold ${size}px ${FONT}`;
  ctx.textAlign = 'center';
  ctx.fillText(letter, x + w / 2, y + h - 8);
  ctx.restore();
}

function labelBox(ctx, text, x, y, w, h, tx, ty) {
  ctx.save();
  ctx.fillStyle = 'rgba(255,255,255,0.6)';
  ctx.fillRect(x, y, w, h);
  ctx.strokeStyle = '#7a7a7a';
  ctx.lineWidth = 1.2;
  ctx.strokeRect(x, y, w, h);
  ctx.fillStyle = INK;
  drawRich(ctx, text, tx, ty, 22, 'bold');
  ctx.restore();
}

function seriesKey(ctx, rows) {
  ctx.save();
  rows.forEach(r => {
    ctx.strokeStyle = r.color;
    ctx.lineWidth = r.width;
    ctx.setLineDash(r.dash || []);
    ctx.beginPath();
    ctx.moveTo(766, r.y); ctx.lineTo(784, r.y);
    ctx.stroke();
    ctx.setLineDash([]);
    ctx.fillStyle = INK;
    drawRich(ctx, r.label, 795, r.y + 7, 19);
  });
  ctx.restore();
}

function upArrow(ctx, x, tip, end) {
  ctx.save();
  ctx.strokeStyle = INK;
  ctx.lineWidth = 2;
  ctx.beginPath(); ctx.moveTo(x, tip + 11); ctx.lineTo(x, end); ctx.stroke();
  ctx.beginPath();
  ctx.moveTo(x, tip); ctx.lineTo(x - 6.5, tip + 12); ctx.lineTo(x + 6.5, tip + 12); ctx.closePath();
  ctx.fillStyle = '#fff'; ctx.fill();
  ctx.lineWidth = 1.8; ctx.stroke();
  ctx.restore();
}

function dashedMarker(chart, layer) {
  const {ctx, chartArea: a, scales: {x}} = chart;
  const px = x.getPixelForValue(layer);
  ctx.save();
  ctx.strokeStyle = '#111';
  ctx.lineWidth = 3;
  ctx.setLineDash([8, 5]);
  ctx.beginPath(); ctx.moveTo(px, a.top); ctx.lineTo(px, a.bottom); ctx.stroke();
  ctx.restore();
  return px;
}

const SI_RED = '#e8421d', SI_RAW = '#fb9f80', C_GREY = '#5a5a5a', BG_TEAL = '#55b5bf';

// dataset indices: 0 floor, 1 carbon raw, 2 BG raw, 3 BG limit (1E6)
function depthDatasets(p) {
  return [
    {data: toPts(bgLayers, p.bgLow), borderWidth: 0, fill: 'start', backgroundColor: '#d8d8d8', order: 11},
    {data: toPts(rawLayers, p.cRaw), borderColor: C_GREY, borderWidth: 1,
      fill: {target: 3, above: 'rgba(92,92,92,0.72)', below: 'rgba(0,0,0,0)'}, order: 10},
    {data: toPts(bgLayers, p.bgHigh), borderColor: BG_TEAL, borderWidth: 1.2,
      fill: {target: 3, above: '#5db6c0', below: 'rgba(0,0,0,0)'}, order: 9},
    {data: flat(0, 2500, bgLimit), borderColor: '#b49e84', borderWidth: 1.3,
      fill: {target: 0, above: 'rgba(101,153,160,0.87)', below: 'rgba(0,0,0,0)'}, order: 8},
    {data: toPts(rawLayers, p.siRaw), borderColor: SI_RAW, borderWidth: 1.9, fill: false, order: 6},
    {data: toPts(p.siFitAt, p.siFit), borderColor: SI_RED, borderWidth: 2.6, fill: false,
      cubicInterpolationMode: 'monotone', order: 5},
    {data: toPts(p.oFitAt, p.oFit), borderColor: '#484848', borderWidth: 2, borderDash: [3, 3], fill: false,
      cubicInterpolationMode: 'monotone', order: 4},
    {data: toPts(p.cFitAt, p.cFit), borderColor: p.cColor, borderWidth: p.cWidth, fill: false,
      cubicInterpolationMode: 'monotone', order: 3}
  ];
}

const common = {
  responsive: false, animation: false, devicePixelRatio: 1, events: [],
  elements: {point: {radius: 0}, line: {tension: 0}},
  plugins: {legend: {display: false}, tooltip: {enabled: false}}
};

// ---------- A: microfossil spectrum ----------
new Chart(document.getElementById('specTop'), {
  type: 'line',
  data: {datasets: [
    {data: flat(0, 100, fossilNoise[0]), borderWidth: 0, fill: false, order: 4},
    {data: flat(0, 100, fossilNoise[1]), borderWidth: 0, fill: 0, backgroundColor: 'rgba(108,100,124,0.6)', order: 3},
    {data: stickLine(fossilMass, fossilPeak, fossilBase), borderColor: '#34343c', borderWidth: 1.5, fill: false, order: 2},
    {type: 'bar', order: 1,
      data: chnopsMass.map(m => ({x: m, y: [1e6, fossilPeak[fossilMass.indexOf(m)]]})),
      borderColor: RED, borderWidth: 1.6, backgroundColor: 'rgba(0,0,0,0)', barThickness: 7, borderSkipped: false}
  ]},
  options: Object.assign({}, common, {
    layout: {padding: {left: 0, top: 79, right: 12, bottom: 9}},
    scales: {
      x: linAxis(100, 10, 20, {position: 'bottom', height: 0, grid: '#dcdcdc'}),
      y: logAxis(1e6, 1e9, {width: 88, pad: 20, font: 14, grid: '#dcdcdc'})
    }
  }),
  plugins: [{
    id: 'specTopDeco',
    afterDraw(chart) {
      const {ctx} = chart;
      drawFrame(chart, 10, 1.5);
      drawPeakLabels(chart, topLabels);
      panelBox(ctx, 'A', 30, 8, 40, 35, 22);
      ctx.save();
      ctx.fillStyle = INK;
      drawRich(ctx, 'Mass spectra comparison', 88, 32, 26, 'bold');
      drawRich(ctx, 'UV-258 nm', 88, 63, 19, 'bold');
      drawRich(ctx, 'Microfossils - A (200 shots)', 806, 113, 22, 'bold', 'right');
      ctx.strokeStyle = RED; ctx.lineWidth = 2;
      ctx.strokeRect(659, 134, 43, 9);
      drawRich(ctx, 'CHNOPS', 709, 145, 22, 'bold');
      ctx.restore();
      yTitle(ctx, 'Log_10 Intensity [electrons/ns]', 26, 234, 17);
    }
  }]
});

// ---------- A: chert spectrum (inverted) ----------
new Chart(document.getElementById('specBottom'), {
  type: 'line',
  data: {datasets: [
    {data: flat(0, 100, chertNoise[0]), borderWidth: 0, fill: false, order: 4},
    {data: flat(0, 100, chertNoise[1]), borderWidth: 0, fill: 0, backgroundColor: 'rgba(108,100,124,0.6)', order: 3},
    {data: stickLine(chertMass, chertPeak, chertBase), borderColor: '#1e1e2a', borderWidth: 1.6, fill: false, order: 2}
  ]},
  options: Object.assign({}, common, {
    layout: {padding: {left: 0, top: 0, right: 12, bottom: 12}},
    scales: {
      x: linAxis(100, 10, 20, {position: 'top', height: 36, labels: true, pad: 15, grid: '#dcdcdc'}),
      y: logAxis(1e6, 1e9, {reverse: true, width: 88, pad: 20, font: 14, grid: '#dcdcdc'})
    }
  }),
  plugins: [{
    id: 'specBottomDeco',
    afterDraw(chart) {
      const {ctx} = chart;
      drawFrame(chart, 10, 1.5);
      drawPeakLabels(chart, bottomLabels);
      ctx.save();
      ctx.translate(0, -360);
      ctx.fillStyle = INK;
      drawRich(ctx, 'Mass [amu/q]', 408, 377, 15);
      drawRich(ctx, 'Chert - 200 shots', 805, 637, 22, 'bold', 'right');
      yTitle(ctx, 'Log_10 Intensity [electrons/ns]', 26, 524, 17);
      ctx.restore();
    }
  }]
});

// ---------- B: microfossil depth profile ----------
new Chart(document.getElementById('depthFossil'), {
  type: 'line',
  data: {datasets: depthDatasets({
    bgLow: fossilBgLowLog, bgHigh: fossilBgHighLog, cRaw: fossilCRawLog, siRaw: fossilSiRawLog,
    siFitAt: fossilSiFitAt, siFit: fossilSiFitLog, oFitAt: fossilOFitAt, oFit: fossilOFitLog,
    cFitAt: fossilCFitAt, cFit: fossilCFitLog, cColor: '#111', cWidth: 3.5
  })},
  options: Object.assign({}, common, {
    layout: {padding: {left: 0, top: 98, right: 94, bottom: 1}},
    scales: {
      x: linAxis(2500, 250, 500, {position: 'bottom', height: 0, grid: '#a5a5a5'}),
      y: logAxis(1e5, 1e10, {width: 137, pad: 22, font: 15, grid: '#a5a5a5'})
    }
  }),
  plugins: [{
    id: 'depthFossilDeco',
    afterDraw(chart) {
      const {ctx, chartArea: a, scales: {x}} = chart;
      dashedMarker(chart, fossilSpectrumLayer);
      drawFrame(chart, 250, 2);
      ctx.save();
      ctx.fillStyle = '#c4c4c4';
      carbonZones.forEach(([s, e]) => {
        const x0 = x.getPixelForValue(s), x1 = x.getPixelForValue(e);
        ctx.fillRect(x0, a.top - 35, x1 - x0, 14);
      });
      ctx.translate(0, -680);
      panelBox(ctx, 'B', 74, 703, 40, 34, 23);
      ctx.fillStyle = INK;
      drawRich(ctx, 'Depth profiles', 131, 725, 26, 'bold');
      drawRich(ctx, 'Carbon enriched zones', 539, 725, 15.5);
      // arrow pointing to the last zone
      ctx.strokeStyle = INK; ctx.lineWidth = 2;
      ctx.beginPath(); ctx.moveTo(707, 721); ctx.lineTo(714, 721); ctx.lineTo(714, 737); ctx.stroke();
      ctx.beginPath(); ctx.moveTo(707, 737); ctx.lineTo(721, 737); ctx.lineTo(714, 750); ctx.closePath();
      ctx.fillStyle = '#fff'; ctx.fill(); ctx.lineWidth = 1.8; ctx.stroke();
      labelBox(ctx, 'Microfossils', 147, 789, 157, 29, 164, 811);
      seriesKey(ctx, [
        {label: '^28Si', y: 848, color: SI_RED, width: 3},
        {label: '^16O', y: 876, color: '#444', width: 2, dash: [2, 2]},
        {label: '^12C', y: 953, color: '#333', width: 3.5},
        {label: 'BG', y: 991, color: BG_TEAL, width: 3}
      ]);
      yTitle(ctx, 'Log_10 Intensity [el/ns]', 50, 915, 17);
      ctx.restore();
    }
  }]
});

// ---------- B: chert depth profile ----------
new Chart(document.getElementById('depthChert'), {
  type: 'line',
  data: {datasets: depthDatasets({
    bgLow: chertBgLowLog, bgHigh: chertBgHighLog, cRaw: chertCRawLog, siRaw: chertSiRawLog,
    siFitAt: chertSiFitAt, siFit: chertSiFitLog, oFitAt: chertOFitAt, oFit: chertOFitLog,
    cFitAt: chertCFitAt, cFit: chertCFitLog, cColor: '#2b2b2b', cWidth: 3
  })},
  options: Object.assign({}, common, {
    layout: {padding: {left: 0, top: 0, right: 94, bottom: 45}},
    scales: {
      x: linAxis(2500, 250, 500, {position: 'top', height: 44, labels: true, pad: 12, grid: '#a5a5a5'}),
      y: logAxis(1e5, 1e10, {width: 137, pad: 22, font: 15, grid: '#a5a5a5'})
    }
  }),
  plugins: [{
    id: 'depthChertDeco',
    afterDraw(chart) {
      const {ctx, scales: {x}} = chart;
      const markX = dashedMarker(chart, chertSpectrumLayer);
      drawFrame(chart, 250, 2);
      const surfX = x.getPixelForValue(surfaceLayer);
      ctx.save();
      ctx.translate(0, -1052);
      ctx.fillStyle = INK;
      drawRich(ctx, 'Ablation', 440, 1068, 15, 'normal', 'center');
      drawRich(ctx, 'layers', 440, 1083, 15, 'normal', 'center');
      labelBox(ctx, 'Chert', 166, 1105, 92, 30, 182, 1128);
      // lowess / raw key
      ctx.lineWidth = 2.6; ctx.strokeStyle = SI_RED;
      ctx.beginPath(); ctx.moveTo(569, 1226); ctx.lineTo(588, 1226); ctx.stroke();
      ctx.lineWidth = 3; ctx.strokeStyle = SI_RAW;
      ctx.beginPath(); ctx.moveTo(569, 1246); ctx.lineTo(588, 1246); ctx.stroke();
      ctx.fillStyle = INK;
      drawRich(ctx, 'Lowess (span 0.1)', 600, 1231, 15.5);
      drawRich(ctx, 'Raw data', 600, 1251, 15.5);
      seriesKey(ctx, [
        {label: '^28Si', y: 1133, color: SI_RED, width: 3},
        {label: '^16O', y: 1161, color: '#444', width: 2, dash: [2, 2]},
        {label: '^12C', y: 1272, color: '#333', width: 3.5},
        {label: 'BG', y: 1308, color: BG_TEAL, width: 3}
      ]);
      yTitle(ctx, 'Log_10 Intensity [el/ns]', 50, 1232, 17);
      upArrow(ctx, surfX, 1380, 1408);
      upArrow(ctx, markX, 1380, 1408);
      ctx.fillStyle = INK;
      drawRich(ctx, 'Surface', 172, 1393, 15);
      drawRich(ctx, 'contamination', 172, 1410, 15);
      drawRich(ctx, 'Spectra position', 337, 1393, 15);
      drawRich(ctx, 'in depth profile', 337, 1410, 15);
      drawRich(ctx, '1 Ablation layer - 200 shots', 742, 1398, 15, 'normal', 'right');
      ctx.restore();
    }
  }]
});
</script>
</body>
</html>
